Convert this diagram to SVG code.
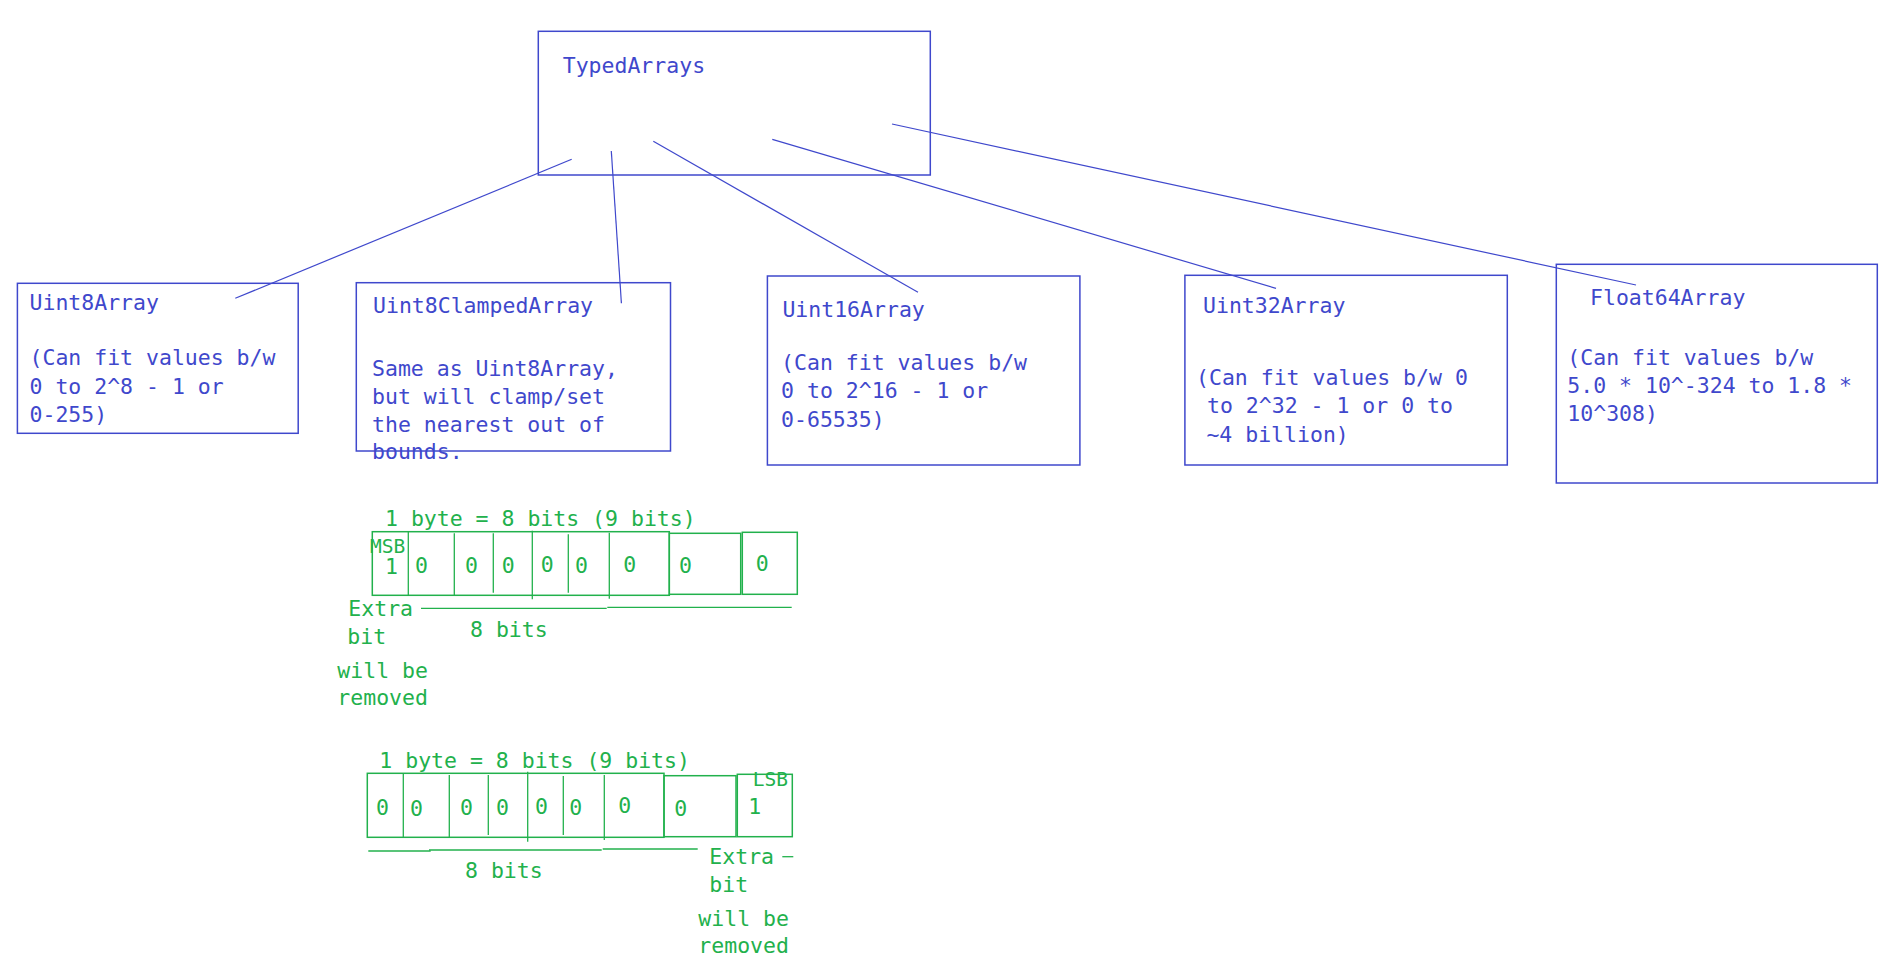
<svg xmlns="http://www.w3.org/2000/svg" width="1883" height="967" viewBox="0 0 1883 967">
<style>
.bx{fill:none;stroke:#3f48cc;stroke-width:1.5}
.ln{stroke:#3f48cc;stroke-width:1.2;fill:none}
.gb{fill:none;stroke:#22b14c;stroke-width:1.5}
.gl{stroke:#22b14c;stroke-width:1.3;fill:none}
.t{font-family:"DejaVu Sans Mono","Liberation Mono",monospace;font-size:21.5px;fill:#3f48cc}
.g{font-family:"DejaVu Sans Mono","Liberation Mono",monospace;font-size:21.5px;fill:#22b14c}
.s{font-size:19.5px}
</style>
<rect width="1883" height="967" fill="#ffffff"/>
<g id="connectors">
<line class="ln" x1="571.7" y1="159.3" x2="235.3" y2="298.3"/>
<line class="ln" x1="611.3" y1="151" x2="621.4" y2="303.3"/>
<line class="ln" x1="653.3" y1="141.3" x2="918" y2="292.3"/>
<line class="ln" x1="772.3" y1="139.3" x2="1276" y2="288.3"/>
<line class="ln" x1="892" y1="124" x2="1636" y2="285"/>
</g>
<g id="typedarrays">
<rect class="bx" x="538.3" y="31.3" width="392" height="143.7"/>
<text class="t" x="562.7" y="72.7">TypedArrays</text>
</g>
<g id="uint8array">
<rect class="bx" x="17.4" y="283.3" width="280.8" height="150"/>
<text class="t"><tspan x="29.5" y="310">Uint8Array</tspan><tspan x="29.5" y="365.3">(Can fit values b/w</tspan><tspan x="29.5" y="393.6">0 to 2^8 - 1 or</tspan><tspan x="29.5" y="422">0-255)</tspan></text>
</g>
<g id="uint8clampedarray">
<rect class="bx" x="356.3" y="282.7" width="314.2" height="168.3"/>
<text class="t"><tspan x="373" y="312.7">Uint8ClampedArray</tspan><tspan x="372" y="375.7">Same as Uint8Array,</tspan><tspan x="372" y="403.5">but will clamp/set</tspan><tspan x="372" y="431.5">the nearest out of</tspan><tspan x="372" y="459.3">bounds.</tspan></text>
</g>
<g id="uint16array">
<rect class="bx" x="767.4" y="276" width="312.5" height="189"/>
<text class="t"><tspan x="782.4" y="317.3">Uint16Array</tspan><tspan x="781.1" y="370">(Can fit values b/w</tspan><tspan x="781.1" y="398.3">0 to 2^16 - 1 or</tspan><tspan x="781.1" y="426.7">0-65535)</tspan></text>
</g>
<g id="uint32array">
<rect class="bx" x="1184.9" y="275.3" width="322.4" height="189.7"/>
<text class="t"><tspan x="1203" y="313.3">Uint32Array</tspan><tspan x="1196" y="385">(Can fit values b/w 0</tspan><tspan x="1207" y="413.3">to 2^32 - 1 or 0 to</tspan><tspan x="1206.4" y="441.7">~4 billion)</tspan></text>
</g>
<g id="float64array">
<rect class="bx" x="1556.3" y="264.3" width="321" height="218.7"/>
<text class="t"><tspan x="1590" y="305">Float64Array</tspan><tspan x="1567.3" y="365">(Can fit values b/w</tspan><tspan x="1567.3" y="392.7">5.0 * 10^-324 to 1.8 *</tspan><tspan x="1567.3" y="420.7">10^308)</tspan></text>
</g>
<g id="byte-msb">
<text class="g" x="385" y="526">1 byte = 8 bits (9 bits)</text>
<rect class="gb" x="372.3" y="531.7" width="297" height="63.6"/>
<line class="gl" x1="408.3" y1="531.7" x2="408.3" y2="595.3"/>
<line class="gl" x1="454.3" y1="533.3" x2="454.3" y2="595.3"/>
<line class="gl" x1="493.3" y1="533.3" x2="493.3" y2="592.7"/>
<line class="gl" x1="532.3" y1="530.7" x2="532.3" y2="599.3"/>
<line class="gl" x1="568.3" y1="534.3" x2="568.3" y2="592.7"/>
<line class="gl" x1="609.3" y1="532.7" x2="609.3" y2="598.7"/>
<rect class="gb" x="669.3" y="533.3" width="71.4" height="61"/>
<rect class="gb" x="742.3" y="532.3" width="55" height="62"/>
<text class="g s" x="370" y="553.3">MSB</text>
<text class="g" x="385" y="574">1</text>
<text class="g" x="415" y="573.3">0</text>
<text class="g" x="465" y="573.3">0</text>
<text class="g" x="501.7" y="573.3">0</text>
<text class="g" x="540.7" y="571.7">0</text>
<text class="g" x="575" y="573">0</text>
<text class="g" x="623.3" y="571.7">0</text>
<text class="g" x="679" y="573.3">0</text>
<text class="g" x="755.7" y="570.7">0</text>
<line class="gl" x1="421" y1="608.3" x2="606.7" y2="608.3"/>
<line class="gl" x1="607.3" y1="607.3" x2="791.7" y2="607.3"/>
<text class="g" x="348.3" y="616">Extra</text>
<text class="g" x="347.3" y="644">bit</text>
<text class="g" x="470" y="637.3">8 bits</text>
<text class="g" x="337.3" y="677.7">will be</text>
<text class="g" x="337.3" y="705">removed</text>
</g>
<g id="byte-lsb">
<text class="g" x="379.3" y="768.3">1 byte = 8 bits (9 bits)</text>
<rect class="gb" x="367.3" y="773.3" width="296.7" height="64"/>
<line class="gl" x1="403.3" y1="773.3" x2="403.3" y2="837.3"/>
<line class="gl" x1="449.3" y1="775" x2="449.3" y2="837.3"/>
<line class="gl" x1="488.3" y1="775" x2="488.3" y2="835"/>
<line class="gl" x1="527.7" y1="771.7" x2="527.7" y2="841.7"/>
<line class="gl" x1="563.3" y1="776" x2="563.3" y2="835"/>
<line class="gl" x1="604.3" y1="775" x2="604.3" y2="840"/>
<rect class="gb" x="664" y="775.7" width="72" height="61"/>
<rect class="gb" x="737.3" y="774.3" width="55" height="62.4"/>
<text class="g s" x="752.7" y="786">LSB</text>
<text class="g" x="376" y="815">0</text>
<text class="g" x="410" y="816">0</text>
<text class="g" x="460" y="815">0</text>
<text class="g" x="496" y="815">0</text>
<text class="g" x="535" y="814">0</text>
<text class="g" x="569.3" y="815">0</text>
<text class="g" x="618.3" y="813.3">0</text>
<text class="g" x="674.3" y="816">0</text>
<text class="g" x="748.3" y="814">1</text>
<line class="gl" x1="368.3" y1="851" x2="430.7" y2="851"/>
<line class="gl" x1="429" y1="850" x2="601.7" y2="850"/>
<line class="gl" x1="602.7" y1="849" x2="697.7" y2="849"/>
<line class="gl" x1="782.3" y1="856.7" x2="793.3" y2="856.7"/>
<text class="g" x="709.3" y="864.3">Extra</text>
<text class="g" x="709.3" y="891.7">bit</text>
<text class="g" x="465" y="878.3">8 bits</text>
<text class="g" x="698.3" y="926">will be</text>
<text class="g" x="698.3" y="953.3">removed</text>
</g>
</svg>
